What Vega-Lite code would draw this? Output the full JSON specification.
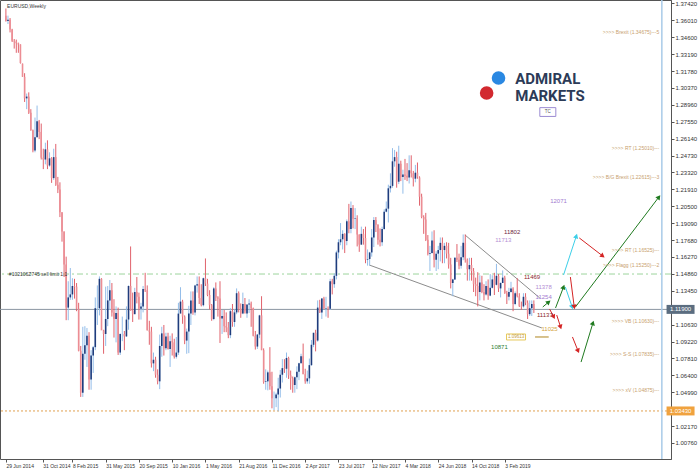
{
"$schema":"https://vega.github.io/schema/vega-lite/v6.json",
"width":671,"height":459,
"autosize":{"type":"none"},
"padding":{"left":0,"top":0,"right":29,"bottom":12},
"background":"white",
"config":{"view":{"stroke":"#555","strokeWidth":1},"font":"Liberation Sans",
 "axis":{"labelOverlap":false,"labelFlush":false,"labelBound":false,"grid":false},
 "axisY":{"labelFontSize":6,"labelColor":"#333","labelFont":"Liberation Sans","tickSize":3,"tickColor":"#555","domainColor":"#555","labelPadding":1,"labelBaseline":"middle","labelOverlap":false,"tickCount":40},
 "axisX":{"labelFontSize":5,"labelColor":"#333","labelFont":"Liberation Sans","tickSize":3,"tickColor":"#555","domain":false,"labelPadding":1,"labelAlign":"left","labelOverlap":false,"tickCount":40}},
"resolve":{"scale":{"color":"independent"}},
"datasets":{
"candles":[
{"d":"2014-06-29","o":1.3640,"h":1.3700,"l":1.3590,"c":1.3595},
{"d":"2014-07-06","o":1.3595,"h":1.3640,"l":1.3570,"c":1.3605},
{"d":"2014-07-13","o":1.3605,"h":1.3620,"l":1.3500,"c":1.3525},
{"d":"2014-07-20","o":1.3525,"h":1.3530,"l":1.3420,"c":1.3430},
{"d":"2014-07-27","o":1.3430,"h":1.3445,"l":1.3365,"c":1.3425},
{"d":"2014-08-03","o":1.3425,"h":1.3440,"l":1.3330,"c":1.3410},
{"d":"2014-08-10","o":1.3410,"h":1.3415,"l":1.3330,"c":1.3400},
{"d":"2014-08-17","o":1.3400,"h":1.3400,"l":1.3240,"c":1.3245},
{"d":"2014-08-24","o":1.3240,"h":1.3240,"l":1.3130,"c":1.3130},
{"d":"2014-08-31","o":1.3130,"h":1.3160,"l":1.2920,"c":1.2950},
{"d":"2014-09-07","o":1.2950,"h":1.2990,"l":1.2860,"c":1.2965},
{"d":"2014-09-14","o":1.2965,"h":1.3000,"l":1.2820,"c":1.2830},
{"d":"2014-09-21","o":1.2830,"h":1.2860,"l":1.2680,"c":1.2685},
{"d":"2014-09-28","o":1.2685,"h":1.2690,"l":1.2500,"c":1.2515},
{"d":"2014-10-05","o":1.2515,"h":1.2790,"l":1.2500,"c":1.2625},
{"d":"2014-10-12","o":1.2625,"h":1.2890,"l":1.2625,"c":1.2760},
{"d":"2014-10-19","o":1.2760,"h":1.2770,"l":1.2610,"c":1.2670},
{"d":"2014-10-26","o":1.2670,"h":1.2740,"l":1.2440,"c":1.2455},
{"d":"2014-11-02","o":1.2455,"h":1.2530,"l":1.2360,"c":1.2440},
{"d":"2014-11-09","o":1.2440,"h":1.2580,"l":1.2400,"c":1.2525},
{"d":"2014-11-16","o":1.2525,"h":1.2600,"l":1.2360,"c":1.2390},
{"d":"2014-11-23","o":1.2390,"h":1.2500,"l":1.2380,"c":1.2450},
{"d":"2014-11-30","o":1.2450,"h":1.2460,"l":1.2245,"c":1.2285},
{"d":"2014-12-07","o":1.2285,"h":1.2530,"l":1.2270,"c":1.2460},
{"d":"2014-12-14","o":1.2460,"h":1.2570,"l":1.2220,"c":1.2230},
{"d":"2014-12-21","o":1.2230,"h":1.2295,"l":1.2160,"c":1.2190},
{"d":"2014-12-28","o":1.2190,"h":1.2250,"l":1.1960,"c":1.2000},
{"d":"2015-01-04","o":1.2000,"h":1.2000,"l":1.1755,"c":1.1840},
{"d":"2015-01-11","o":1.1840,"h":1.1840,"l":1.1460,"c":1.1565},
{"d":"2015-01-18","o":1.1565,"h":1.1630,"l":1.1100,"c":1.1205},
{"d":"2015-01-25","o":1.1205,"h":1.1425,"l":1.1100,"c":1.1290},
{"d":"2015-02-01","o":1.1290,"h":1.1535,"l":1.1270,"c":1.1315},
{"d":"2015-02-08","o":1.1315,"h":1.1450,"l":1.1270,"c":1.1385},
{"d":"2015-02-15","o":1.1385,"h":1.1445,"l":1.1280,"c":1.1380},
{"d":"2015-02-22","o":1.1380,"h":1.1410,"l":1.1175,"c":1.1195},
{"d":"2015-03-01","o":1.1195,"h":1.1245,"l":1.0840,"c":1.0845},
{"d":"2015-03-08","o":1.0845,"h":1.0885,"l":1.0460,"c":1.0495},
{"d":"2015-03-15","o":1.0495,"h":1.1045,"l":1.0460,"c":1.0820},
{"d":"2015-03-22","o":1.0820,"h":1.1050,"l":1.0770,"c":1.0890},
{"d":"2015-03-29","o":1.0890,"h":1.1035,"l":1.0710,"c":1.0970},
{"d":"2015-04-05","o":1.0970,"h":1.1000,"l":1.0520,"c":1.0605},
{"d":"2015-04-12","o":1.0605,"h":1.0850,"l":1.0520,"c":1.0805},
{"d":"2015-04-19","o":1.0805,"h":1.0885,"l":1.0660,"c":1.0875},
{"d":"2015-04-26","o":1.0875,"h":1.1290,"l":1.0850,"c":1.1200},
{"d":"2015-05-03","o":1.1200,"h":1.1390,"l":1.1060,"c":1.1200},
{"d":"2015-05-10","o":1.1200,"h":1.1465,"l":1.1140,"c":1.1445},
{"d":"2015-05-17","o":1.1445,"h":1.1450,"l":1.1045,"c":1.1015},
{"d":"2015-05-24","o":1.1015,"h":1.1020,"l":1.0820,"c":1.0985},
{"d":"2015-05-31","o":1.0985,"h":1.1380,"l":1.0885,"c":1.1110},
{"d":"2015-06-07","o":1.1110,"h":1.1385,"l":1.1050,"c":1.1265},
{"d":"2015-06-14","o":1.1265,"h":1.1435,"l":1.1185,"c":1.1350},
{"d":"2015-06-21","o":1.1350,"h":1.1410,"l":1.1130,"c":1.1165},
{"d":"2015-06-28","o":1.1165,"h":1.1275,"l":1.0955,"c":1.1110},
{"d":"2015-07-05","o":1.1110,"h":1.1215,"l":1.0915,"c":1.1160},
{"d":"2015-07-12","o":1.1160,"h":1.1205,"l":1.0810,"c":1.0830},
{"d":"2015-07-19","o":1.0830,"h":1.0990,"l":1.0810,"c":1.0985},
{"d":"2015-07-26","o":1.0985,"h":1.1130,"l":1.0925,"c":1.0985},
{"d":"2015-08-02","o":1.0985,"h":1.1010,"l":1.0850,"c":1.0965},
{"d":"2015-08-09","o":1.0965,"h":1.1215,"l":1.0960,"c":1.1105},
{"d":"2015-08-16","o":1.1105,"h":1.1390,"l":1.1020,"c":1.1385},
{"d":"2015-08-23","o":1.1385,"h":1.1715,"l":1.1180,"c":1.1180},
{"d":"2015-08-30","o":1.1180,"h":1.1330,"l":1.1085,"c":1.1150},
{"d":"2015-09-06","o":1.1150,"h":1.1370,"l":1.1150,"c":1.1335},
{"d":"2015-09-13","o":1.1335,"h":1.1460,"l":1.1240,"c":1.1295},
{"d":"2015-09-20","o":1.1295,"h":1.1330,"l":1.1105,"c":1.1195},
{"d":"2015-09-27","o":1.1195,"h":1.1245,"l":1.1105,"c":1.1215},
{"d":"2015-10-04","o":1.1215,"h":1.1385,"l":1.1165,"c":1.1360},
{"d":"2015-10-11","o":1.1360,"h":1.1495,"l":1.1335,"c":1.1350},
{"d":"2015-10-18","o":1.1350,"h":1.1390,"l":1.1015,"c":1.1015},
{"d":"2015-10-25","o":1.1015,"h":1.1095,"l":1.0895,"c":1.1005},
{"d":"2015-11-01","o":1.1005,"h":1.1045,"l":1.0705,"c":1.0740},
{"d":"2015-11-08","o":1.0740,"h":1.0830,"l":1.0675,"c":1.0770},
{"d":"2015-11-15","o":1.0770,"h":1.0795,"l":1.0620,"c":1.0645},
{"d":"2015-11-22","o":1.0645,"h":1.0690,"l":1.0565,"c":1.0590},
{"d":"2015-11-29","o":1.0590,"h":1.0980,"l":1.0525,"c":1.0885},
{"d":"2015-12-06","o":1.0885,"h":1.1045,"l":1.0795,"c":1.0990},
{"d":"2015-12-13","o":1.0990,"h":1.1060,"l":1.0805,"c":1.0865},
{"d":"2015-12-20","o":1.0865,"h":1.0995,"l":1.0850,"c":1.0965},
{"d":"2015-12-27","o":1.0965,"h":1.0995,"l":1.0855,"c":1.0860},
{"d":"2016-01-03","o":1.0860,"h":1.0970,"l":1.0710,"c":1.0925},
{"d":"2016-01-10","o":1.0925,"h":1.0990,"l":1.0805,"c":1.0915},
{"d":"2016-01-17","o":1.0915,"h":1.0945,"l":1.0780,"c":1.0795},
{"d":"2016-01-24","o":1.0795,"h":1.0960,"l":1.0780,"c":1.0830},
{"d":"2016-01-31","o":1.0830,"h":1.1245,"l":1.0810,"c":1.1155},
{"d":"2016-02-07","o":1.1155,"h":1.1375,"l":1.1160,"c":1.1255},
{"d":"2016-02-14","o":1.1255,"h":1.1270,"l":1.1070,"c":1.1130},
{"d":"2016-02-21","o":1.1130,"h":1.1140,"l":1.0900,"c":1.0930},
{"d":"2016-02-28","o":1.0930,"h":1.1030,"l":1.0820,"c":1.1005},
{"d":"2016-03-06","o":1.1005,"h":1.1220,"l":1.0825,"c":1.1155},
{"d":"2016-03-13","o":1.1155,"h":1.1340,"l":1.1060,"c":1.1265},
{"d":"2016-03-20","o":1.1265,"h":1.1340,"l":1.1145,"c":1.1165},
{"d":"2016-03-27","o":1.1165,"h":1.1395,"l":1.1140,"c":1.1390},
{"d":"2016-04-03","o":1.1390,"h":1.1465,"l":1.1330,"c":1.1400},
{"d":"2016-04-10","o":1.1400,"h":1.1465,"l":1.1235,"c":1.1285},
{"d":"2016-04-17","o":1.1285,"h":1.1400,"l":1.1215,"c":1.1225},
{"d":"2016-04-24","o":1.1225,"h":1.1455,"l":1.1215,"c":1.1450},
{"d":"2016-05-01","o":1.1450,"h":1.1615,"l":1.1385,"c":1.1405},
{"d":"2016-05-08","o":1.1405,"h":1.1445,"l":1.1300,"c":1.1310},
{"d":"2016-05-15","o":1.1310,"h":1.1350,"l":1.1190,"c":1.1225},
{"d":"2016-05-22","o":1.1225,"h":1.1235,"l":1.1095,"c":1.1110},
{"d":"2016-05-29","o":1.1110,"h":1.1375,"l":1.1100,"c":1.1365},
{"d":"2016-06-05","o":1.1365,"h":1.1415,"l":1.1260,"c":1.1290},
{"d":"2016-06-12","o":1.1290,"h":1.1300,"l":1.1130,"c":1.1280},
{"d":"2016-06-19","o":1.1280,"h":1.1425,"l":1.0910,"c":1.1115},
{"d":"2016-06-26","o":1.1115,"h":1.1185,"l":1.0985,"c":1.1135},
{"d":"2016-07-03","o":1.1135,"h":1.1185,"l":1.1000,"c":1.1050},
{"d":"2016-07-10","o":1.1050,"h":1.1165,"l":1.1000,"c":1.1040},
{"d":"2016-07-17","o":1.1040,"h":1.1085,"l":1.0950,"c":1.0975},
{"d":"2016-07-24","o":1.0975,"h":1.1200,"l":1.0950,"c":1.1175},
{"d":"2016-07-31","o":1.1175,"h":1.1235,"l":1.1045,"c":1.1085},
{"d":"2016-08-07","o":1.1085,"h":1.1190,"l":1.1045,"c":1.1165},
{"d":"2016-08-14","o":1.1165,"h":1.1365,"l":1.1150,"c":1.1325},
{"d":"2016-08-21","o":1.1325,"h":1.1340,"l":1.1165,"c":1.1195},
{"d":"2016-08-28","o":1.1195,"h":1.1240,"l":1.1120,"c":1.1155},
{"d":"2016-09-04","o":1.1155,"h":1.1330,"l":1.1150,"c":1.1235},
{"d":"2016-09-11","o":1.1235,"h":1.1285,"l":1.1175,"c":1.1155},
{"d":"2016-09-18","o":1.1155,"h":1.1230,"l":1.1120,"c":1.1230},
{"d":"2016-09-25","o":1.1230,"h":1.1275,"l":1.1160,"c":1.1240},
{"d":"2016-10-02","o":1.1240,"h":1.1255,"l":1.1045,"c":1.1200},
{"d":"2016-10-09","o":1.1200,"h":1.1205,"l":1.0965,"c":1.0970},
{"d":"2016-10-16","o":1.0970,"h":1.1010,"l":1.0855,"c":1.0880},
{"d":"2016-10-23","o":1.0880,"h":1.0985,"l":1.0860,"c":1.0980},
{"d":"2016-10-30","o":1.0980,"h":1.1145,"l":1.0950,"c":1.1140},
{"d":"2016-11-06","o":1.1140,"h":1.1300,"l":1.0850,"c":1.0850},
{"d":"2016-11-13","o":1.0850,"h":1.0865,"l":1.0570,"c":1.0585},
{"d":"2016-11-20","o":1.0585,"h":1.0690,"l":1.0520,"c":1.0590},
{"d":"2016-11-27","o":1.0590,"h":1.0680,"l":1.0515,"c":1.0665},
{"d":"2016-12-04","o":1.0665,"h":1.0875,"l":1.0520,"c":1.0550},
{"d":"2016-12-11","o":1.0550,"h":1.0670,"l":1.0365,"c":1.0450},
{"d":"2016-12-18","o":1.0450,"h":1.0505,"l":1.0350,"c":1.0450},
{"d":"2016-12-25","o":1.0450,"h":1.0495,"l":1.0375,"c":1.0480},
{"d":"2017-01-01","o":1.0480,"h":1.0620,"l":1.0340,"c":1.0530},
{"d":"2017-01-08","o":1.0530,"h":1.0685,"l":1.0455,"c":1.0645},
{"d":"2017-01-15","o":1.0645,"h":1.0775,"l":1.0580,"c":1.0700},
{"d":"2017-01-22","o":1.0700,"h":1.0775,"l":1.0660,"c":1.0695},
{"d":"2017-01-29","o":1.0695,"h":1.0830,"l":1.0620,"c":1.0785},
{"d":"2017-02-05","o":1.0785,"h":1.0795,"l":1.0610,"c":1.0640},
{"d":"2017-02-12","o":1.0640,"h":1.0680,"l":1.0520,"c":1.0615},
{"d":"2017-02-19","o":1.0615,"h":1.0630,"l":1.0495,"c":1.0560},
{"d":"2017-02-26","o":1.0560,"h":1.0630,"l":1.0495,"c":1.0625},
{"d":"2017-03-05","o":1.0625,"h":1.0715,"l":1.0525,"c":1.0670},
{"d":"2017-03-12","o":1.0670,"h":1.0745,"l":1.0600,"c":1.0740},
{"d":"2017-03-19","o":1.0740,"h":1.0820,"l":1.0740,"c":1.0800},
{"d":"2017-03-26","o":1.0800,"h":1.0905,"l":1.0650,"c":1.0650},
{"d":"2017-04-02","o":1.0650,"h":1.0695,"l":1.0570,"c":1.0590},
{"d":"2017-04-09","o":1.0590,"h":1.0680,"l":1.0570,"c":1.0615},
{"d":"2017-04-16","o":1.0615,"h":1.0780,"l":1.0570,"c":1.0725},
{"d":"2017-04-23","o":1.0725,"h":1.0935,"l":1.0720,"c":1.0895},
{"d":"2017-04-30","o":1.0895,"h":1.0995,"l":1.0875,"c":1.0995},
{"d":"2017-05-07","o":1.0995,"h":1.1020,"l":1.0840,"c":1.0930},
{"d":"2017-05-14","o":1.0930,"h":1.1265,"l":1.0920,"c":1.1205},
{"d":"2017-05-21","o":1.1205,"h":1.1270,"l":1.1160,"c":1.1165},
{"d":"2017-05-28","o":1.1165,"h":1.1285,"l":1.1110,"c":1.1280},
{"d":"2017-06-04","o":1.1280,"h":1.1295,"l":1.1195,"c":1.1195},
{"d":"2017-06-11","o":1.1195,"h":1.1295,"l":1.1130,"c":1.1200},
{"d":"2017-06-18","o":1.1200,"h":1.1215,"l":1.1120,"c":1.1195},
{"d":"2017-06-25","o":1.1195,"h":1.1445,"l":1.1185,"c":1.1425},
{"d":"2017-07-02","o":1.1425,"h":1.1445,"l":1.1315,"c":1.1400},
{"d":"2017-07-09","o":1.1400,"h":1.1490,"l":1.1370,"c":1.1470},
{"d":"2017-07-16","o":1.1470,"h":1.1680,"l":1.1440,"c":1.1665},
{"d":"2017-07-23","o":1.1665,"h":1.1775,"l":1.1615,"c":1.1750},
{"d":"2017-07-30","o":1.1750,"h":1.1910,"l":1.1725,"c":1.1775},
{"d":"2017-08-06","o":1.1775,"h":1.1850,"l":1.1690,"c":1.1820},
{"d":"2017-08-13","o":1.1820,"h":1.1825,"l":1.1660,"c":1.1760},
{"d":"2017-08-20","o":1.1760,"h":1.1940,"l":1.1725,"c":1.1925},
{"d":"2017-08-27","o":1.1925,"h":1.2070,"l":1.1825,"c":1.1860},
{"d":"2017-09-03","o":1.1860,"h":1.2090,"l":1.1825,"c":1.2035},
{"d":"2017-09-10","o":1.2035,"h":1.2060,"l":1.1865,"c":1.1945},
{"d":"2017-09-17","o":1.1945,"h":1.2035,"l":1.1860,"c":1.1950},
{"d":"2017-09-24","o":1.1950,"h":1.1975,"l":1.1715,"c":1.1815},
{"d":"2017-10-01","o":1.1815,"h":1.1815,"l":1.1670,"c":1.1730},
{"d":"2017-10-08","o":1.1730,"h":1.1880,"l":1.1730,"c":1.1820},
{"d":"2017-10-15","o":1.1820,"h":1.1860,"l":1.1730,"c":1.1785},
{"d":"2017-10-22","o":1.1785,"h":1.1880,"l":1.1575,"c":1.1605},
{"d":"2017-10-29","o":1.1605,"h":1.1690,"l":1.1555,"c":1.1610},
{"d":"2017-11-05","o":1.1610,"h":1.1670,"l":1.1555,"c":1.1665},
{"d":"2017-11-12","o":1.1665,"h":1.1860,"l":1.1630,"c":1.1790},
{"d":"2017-11-19","o":1.1790,"h":1.1960,"l":1.1710,"c":1.1935},
{"d":"2017-11-26","o":1.1935,"h":1.1960,"l":1.1835,"c":1.1895},
{"d":"2017-12-03","o":1.1895,"h":1.1900,"l":1.1730,"c":1.1770},
{"d":"2017-12-10","o":1.1770,"h":1.1865,"l":1.1715,"c":1.1750},
{"d":"2017-12-17","o":1.1750,"h":1.1880,"l":1.1720,"c":1.1860},
{"d":"2017-12-24","o":1.1860,"h":1.2025,"l":1.1855,"c":1.2005},
{"d":"2017-12-31","o":1.2005,"h":1.2090,"l":1.2000,"c":1.2030},
{"d":"2018-01-07","o":1.2030,"h":1.2230,"l":1.1915,"c":1.2200},
{"d":"2018-01-14","o":1.2200,"h":1.2325,"l":1.2165,"c":1.2220},
{"d":"2018-01-21","o":1.2220,"h":1.2535,"l":1.2205,"c":1.2425},
{"d":"2018-01-28","o":1.2425,"h":1.2520,"l":1.2380,"c":1.2460},
{"d":"2018-02-04","o":1.2460,"h":1.2505,"l":1.2205,"c":1.2255},
{"d":"2018-02-11","o":1.2255,"h":1.2555,"l":1.2235,"c":1.2405},
{"d":"2018-02-18","o":1.2405,"h":1.2430,"l":1.2260,"c":1.2295},
{"d":"2018-02-25","o":1.2295,"h":1.2355,"l":1.2155,"c":1.2315},
{"d":"2018-03-04","o":1.2315,"h":1.2445,"l":1.2270,"c":1.2305},
{"d":"2018-03-11","o":1.2305,"h":1.2410,"l":1.2260,"c":1.2290},
{"d":"2018-03-18","o":1.2290,"h":1.2475,"l":1.2240,"c":1.2350},
{"d":"2018-03-25","o":1.2350,"h":1.2475,"l":1.2290,"c":1.2325},
{"d":"2018-04-01","o":1.2325,"h":1.2345,"l":1.2215,"c":1.2280},
{"d":"2018-04-08","o":1.2280,"h":1.2395,"l":1.2250,"c":1.2330},
{"d":"2018-04-15","o":1.2330,"h":1.2415,"l":1.2280,"c":1.2290},
{"d":"2018-04-22","o":1.2290,"h":1.2300,"l":1.2055,"c":1.2130},
{"d":"2018-04-29","o":1.2130,"h":1.2155,"l":1.1950,"c":1.1960},
{"d":"2018-05-06","o":1.1960,"h":1.1975,"l":1.1820,"c":1.1940},
{"d":"2018-05-13","o":1.1940,"h":1.1995,"l":1.1760,"c":1.1770},
{"d":"2018-05-20","o":1.1770,"h":1.1810,"l":1.1640,"c":1.1655},
{"d":"2018-05-27","o":1.1655,"h":1.1720,"l":1.1510,"c":1.1660},
{"d":"2018-06-03","o":1.1660,"h":1.1840,"l":1.1655,"c":1.1765},
{"d":"2018-06-10","o":1.1765,"h":1.1850,"l":1.1540,"c":1.1605},
{"d":"2018-06-17","o":1.1605,"h":1.1675,"l":1.1510,"c":1.1655},
{"d":"2018-06-24","o":1.1655,"h":1.1720,"l":1.1525,"c":1.1685},
{"d":"2018-07-01","o":1.1685,"h":1.1790,"l":1.1590,"c":1.1745},
{"d":"2018-07-08","o":1.1745,"h":1.1790,"l":1.1575,"c":1.1685},
{"d":"2018-07-15","o":1.1685,"h":1.1745,"l":1.1575,"c":1.1720},
{"d":"2018-07-22","o":1.1720,"h":1.1750,"l":1.1615,"c":1.1655},
{"d":"2018-07-29","o":1.1655,"h":1.1745,"l":1.1530,"c":1.1565},
{"d":"2018-08-05","o":1.1565,"h":1.1620,"l":1.1365,"c":1.1410},
{"d":"2018-08-12","o":1.1410,"h":1.1445,"l":1.1300,"c":1.1440},
{"d":"2018-08-19","o":1.1440,"h":1.1625,"l":1.1435,"c":1.1620},
{"d":"2018-08-26","o":1.1620,"h":1.1735,"l":1.1585,"c":1.1605},
{"d":"2018-09-02","o":1.1605,"h":1.1655,"l":1.1525,"c":1.1555},
{"d":"2018-09-09","o":1.1555,"h":1.1720,"l":1.1530,"c":1.1625},
{"d":"2018-09-16","o":1.1625,"h":1.1815,"l":1.1600,"c":1.1745},
{"d":"2018-09-23","o":1.1745,"h":1.1815,"l":1.1580,"c":1.1605},
{"d":"2018-09-30","o":1.1605,"h":1.1615,"l":1.1430,"c":1.1525},
{"d":"2018-10-07","o":1.1525,"h":1.1620,"l":1.1430,"c":1.1560},
{"d":"2018-10-14","o":1.1560,"h":1.1620,"l":1.1430,"c":1.1510},
{"d":"2018-10-21","o":1.1510,"h":1.1535,"l":1.1335,"c":1.1400},
{"d":"2018-10-28","o":1.1400,"h":1.1455,"l":1.1300,"c":1.1385},
{"d":"2018-11-04","o":1.1385,"h":1.1500,"l":1.1215,"c":1.1335},
{"d":"2018-11-11","o":1.1335,"h":1.1475,"l":1.1265,"c":1.1415},
{"d":"2018-11-18","o":1.1415,"h":1.1470,"l":1.1325,"c":1.1335},
{"d":"2018-11-25","o":1.1335,"h":1.1400,"l":1.1265,"c":1.1315},
{"d":"2018-12-02","o":1.1315,"h":1.1425,"l":1.1305,"c":1.1385},
{"d":"2018-12-09","o":1.1385,"h":1.1440,"l":1.1270,"c":1.1305},
{"d":"2018-12-16","o":1.1305,"h":1.1485,"l":1.1300,"c":1.1370},
{"d":"2018-12-23","o":1.1370,"h":1.1475,"l":1.1365,"c":1.1440},
{"d":"2018-12-30","o":1.1440,"h":1.1495,"l":1.1310,"c":1.1395},
{"d":"2019-01-06","o":1.1395,"h":1.1570,"l":1.1390,"c":1.1470},
{"d":"2019-01-13","o":1.1470,"h":1.1485,"l":1.1335,"c":1.1365},
{"d":"2019-01-20","o":1.1365,"h":1.1415,"l":1.1290,"c":1.1410},
{"d":"2019-01-27","o":1.1410,"h":1.1515,"l":1.1410,"c":1.1455},
{"d":"2019-02-03","o":1.1455,"h":1.1470,"l":1.1320,"c":1.1325},
{"d":"2019-02-10","o":1.1325,"h":1.1345,"l":1.1235,"c":1.1295},
{"d":"2019-02-17","o":1.1295,"h":1.1370,"l":1.1265,"c":1.1335},
{"d":"2019-02-24","o":1.1335,"h":1.1420,"l":1.1330,"c":1.1365},
{"d":"2019-03-03","o":1.1365,"h":1.1375,"l":1.1175,"c":1.1235},
{"d":"2019-03-10","o":1.1235,"h":1.1340,"l":1.1225,"c":1.1325},
{"d":"2019-03-17","o":1.1325,"h":1.1450,"l":1.1290,"c":1.1300},
{"d":"2019-03-24","o":1.1300,"h":1.1325,"l":1.1210,"c":1.1220},
{"d":"2019-03-31","o":1.1220,"h":1.1255,"l":1.1185,"c":1.1215},
{"d":"2019-04-07","o":1.1215,"h":1.1325,"l":1.1205,"c":1.1295},
{"d":"2019-04-14","o":1.1295,"h":1.1325,"l":1.1225,"c":1.1245},
{"d":"2019-04-21","o":1.1245,"h":1.1265,"l":1.1110,"c":1.1150},
{"d":"2019-04-28","o":1.1150,"h":1.1265,"l":1.1135,"c":1.1200},
{"d":"2019-05-05","o":1.1200,"h":1.1265,"l":1.1135,"c":1.1235},
{"d":"2019-05-12","o":1.1235,"h":1.1265,"l":1.1160,"c":1.1190}
],
"arrows":[
{"id":"a","grp":"g","d":"2019-06-11","p":1.1210},{"id":"a","grp":"g","d":"2019-07-01","p":1.1252},
{"id":"b","grp":"r","d":"2019-07-04","p":1.1193},{"id":"b","grp":"r","d":"2019-07-18","p":1.1127},
{"id":"c","grp":"g","d":"2019-07-24","p":1.1202},{"id":"c","grp":"g","d":"2019-08-20","p":1.1377},
{"id":"d","grp":"c","d":"2019-08-20","p":1.1477},{"id":"d","grp":"c","d":"2019-10-02","p":1.1802},
{"id":"e","grp":"c","d":"2019-08-26","p":1.1377},{"id":"e","grp":"c","d":"2019-09-18","p":1.1210},
{"id":"f","grp":"r","d":"2019-09-12","p":1.1460},{"id":"f","grp":"r","d":"2019-09-25","p":1.1210},
{"id":"g","grp":"r","d":"2019-10-12","p":1.1786},{"id":"g","grp":"r","d":"2019-12-30","p":1.1635},
{"id":"h","grp":"r","d":"2019-07-28","p":1.1143},{"id":"h","grp":"r","d":"2019-08-10","p":1.1043},
{"id":"i","grp":"g","d":"2019-09-29","p":1.1210},{"id":"i","grp":"g","d":"2020-07-06","p":1.2127},
{"id":"j","grp":"r","d":"2019-09-19","p":1.0960},{"id":"j","grp":"r","d":"2019-10-08","p":1.0843},
{"id":"k","grp":"g","d":"2019-10-18","p":1.0751},{"id":"k","grp":"g","d":"2019-11-27","p":1.1077}
],
"heads":[
{"grp":"g","d":"2019-07-01","p":1.1252,"dir":50},
{"grp":"r","d":"2019-07-18","p":1.1127,"dir":153},
{"grp":"g","d":"2019-08-20","p":1.1377,"dir":21},
{"grp":"c","d":"2019-10-02","p":1.1802,"dir":18},
{"grp":"c","d":"2019-09-18","p":1.1210,"dir":161},
{"grp":"r","d":"2019-09-25","p":1.1210,"dir":172},
{"grp":"r","d":"2019-12-30","p":1.1635,"dir":127},
{"grp":"r","d":"2019-08-10","p":1.1043,"dir":162},
{"grp":"g","d":"2020-07-06","p":1.2127,"dir":37},
{"grp":"r","d":"2019-10-08","p":1.0843,"dir":157},
{"grp":"g","d":"2019-11-27","p":1.1077,"dir":17}
],
"wedge":[
{"id":"u","d":"2018-09-22","p":1.1811},{"id":"u","d":"2019-06-01","p":1.1285},
{"id":"l","d":"2017-11-04","p":1.1560},{"id":"l","d":"2019-06-08","p":1.1035}
],
"nums":[
{"t":"11802","g":"dk","d":"2019-02-28","p":1.1836},
{"t":"11713","g":"lp","d":"2019-01-29","p":1.1769},
{"t":"12071","g":"pp","d":"2019-08-03","p":1.2094},
{"t":"11469","g":"dr","d":"2019-05-06","p":1.1460},
{"t":"11378","g":"lp","d":"2019-06-14","p":1.1377},
{"t":"11254","g":"pp","d":"2019-06-14","p":1.1293},
{"t":"11137","g":"dr","d":"2019-06-18","p":1.1143},
{"t":"11025","g":"gd","d":"2019-07-04","p":1.1027},
{"t":"10871","g":"gr","d":"2019-01-16","p":1.0876}
],
"levels":[
{"t":">>>> Brexit (1.34675)---5","p":1.34675},
{"t":">>>> RT (1.25010)---","p":1.25010},
{"t":">>>> B/G Brexit (1.22615)---3","p":1.22615},
{"t":">>>> RT (1.16525)---","p":1.16525},
{"t":">>>> Flagg (1.15250)---2","p":1.15250},
{"t":">>>> VB (1.10630)---","p":1.10630},
{"t":">>>> S-S (1.07835)---","p":1.07835},
{"t":">>>> xV (1.04875)---","p":1.04875}
]
},
"layer":[
{"data":{"values":[{"p":1.1190}]},"mark":{"type":"rule","color":"#8a95a2","strokeWidth":1},
 "encoding":{"y":{"field":"p","type":"quantitative","scale":{"domain":[0.99423,1.37704],"zero":false,"nice":false},"axis":{"title":null}}}},
{"data":{"values":[{"p":1.1485}]},"mark":{"type":"rule","color":"#9cd49c","strokeWidth":1,"strokeDash":[6,3,2,3]},
 "encoding":{"y":{"field":"p","type":"quantitative","scale":{"domain":[0.99423,1.37704],"zero":false,"nice":false},"axis":{"title":null}}}},
{"data":{"values":[{"p":1.0343}]},"mark":{"type":"rule","color":"#e0a050","strokeWidth":1,"strokeDash":[2,2]},
 "encoding":{"y":{"field":"p","type":"quantitative","scale":{"domain":[0.99423,1.37704],"zero":false,"nice":false},"axis":{"title":null}}}},
{"data":{"values":[{"d":"2020-07-16"}]},"mark":{"type":"rule","color":"#a9cbe8","strokeWidth":1.5},
 "encoding":{"x":{"field":"d","type":"temporal","scale":{"domain":[{"year":2014,"month":6,"date":26},{"year":2020,"month":7,"date":30}]},"axis":{"title":null}}}},
{"data":{"name":"wedge"},"mark":{"type":"line","color":"#8c8c8c","strokeWidth":1},
 "encoding":{"x":{"field":"d","type":"temporal","scale":{"domain":[{"year":2014,"month":6,"date":26},{"year":2020,"month":7,"date":30}]},"axis":{"title":null}},
  "y":{"field":"p","type":"quantitative","scale":{"domain":[0.99423,1.37704],"zero":false,"nice":false},"axis":{"title":null}},
  "detail":{"field":"id"}}},
{"data":{"name":"candles"},"mark":{"type":"rule","strokeWidth":1},
 "encoding":{"x":{"field":"d","type":"temporal","scale":{"domain":[{"year":2014,"month":6,"date":26},{"year":2020,"month":7,"date":30}]},
   "axis":{"title":null,"values":[{"year":2014,"month":6,"date":29},{"year":2014,"month":10,"date":31},{"year":2015,"month":2,"date":8},{"year":2015,"month":5,"date":31},{"year":2015,"month":9,"date":20},{"year":2016,"month":1,"date":10},{"year":2016,"month":5,"date":1},{"year":2016,"month":8,"date":21},{"year":2016,"month":12,"date":11},{"year":2017,"month":4,"date":2},{"year":2017,"month":7,"date":23},{"year":2017,"month":11,"date":12},{"year":2018,"month":3,"date":4},{"year":2018,"month":6,"date":24},{"year":2018,"month":10,"date":14},{"year":2019,"month":2,"date":3}],
   "format":"%-d %b %Y","labelAlign":"left","labelOverlap":false,"tickCount":40}},
  "y":{"field":"l","type":"quantitative","scale":{"domain":[0.99423,1.37704],"zero":false,"nice":false},
   "axis":{"title":null,"orient":"right","values":[1.3742,1.3601,1.346,1.3319,1.3178,1.3037,1.2896,1.2755,1.2614,1.2473,1.2332,1.2191,1.205,1.1909,1.1768,1.1627,1.1486,1.1345,1.1063,1.0922,1.0781,1.064,1.0499,1.0217,1.0076],
   "format":".5f","labelOverlap":false,"tickCount":40}},
  "y2":{"field":"h"},
  "color":{"condition":{"test":"datum.c >= datum.o","value":"#93bde9"},"value":"#e0626c"}}},
{"data":{"name":"candles"},"mark":{"type":"bar","size":1.6},
 "encoding":{"x":{"field":"d","type":"temporal","scale":{"domain":[{"year":2014,"month":6,"date":26},{"year":2020,"month":7,"date":30}]},"axis":{"title":null}},
  "y":{"field":"o","type":"quantitative","scale":{"domain":[0.99423,1.37704],"zero":false,"nice":false},"axis":{"title":null}},
  "y2":{"field":"c"},
  "color":{"condition":{"test":"datum.c >= datum.o","value":"#1f3c7c"},"value":"#ec8d94"}}},
{"data":{"name":"arrows"},"mark":{"type":"line","strokeWidth":1},
 "encoding":{"x":{"field":"d","type":"temporal","scale":{"domain":[{"year":2014,"month":6,"date":26},{"year":2020,"month":7,"date":30}]},"axis":{"title":null}},
  "y":{"field":"p","type":"quantitative","scale":{"domain":[0.99423,1.37704],"zero":false,"nice":false},"axis":{"title":null}},
  "detail":{"field":"id"},
  "color":{"field":"grp","type":"nominal","scale":{"domain":["g","r","c"],"range":["#1f7a1f","#d42424","#3ccfe8"]},"legend":null}}},
{"data":{"name":"heads"},"mark":{"type":"point","shape":"triangle-up","filled":true,"opacity":1,"size":28},
 "encoding":{"x":{"field":"d","type":"temporal","scale":{"domain":[{"year":2014,"month":6,"date":26},{"year":2020,"month":7,"date":30}]},"axis":{"title":null}},
  "y":{"field":"p","type":"quantitative","scale":{"domain":[0.99423,1.37704],"zero":false,"nice":false},"axis":{"title":null}},
  "angle":{"field":"dir","type":"quantitative","scale":null},
  "color":{"field":"grp","type":"nominal","scale":{"domain":["g","r","c"],"range":["#1f7a1f","#d42424","#3ccfe8"]},"legend":null}}},
{"data":{"values":[{"d":"2019-05-16","p":1.0960},{"d":"2019-07-01","p":1.0960}]},"mark":{"type":"line","color":"#c9ad68","strokeWidth":1.5},
 "encoding":{"x":{"field":"d","type":"temporal","scale":{"domain":[{"year":2014,"month":6,"date":26},{"year":2020,"month":7,"date":30}]},"axis":{"title":null}},
  "y":{"field":"p","type":"quantitative","scale":{"domain":[0.99423,1.37704],"zero":false,"nice":false},"axis":{"title":null}}}},
{"data":{"values":[{"d":"2019-03-13","p":1.0960}]},"mark":{"type":"point","shape":"M-1.9,-0.6H1.9V0.6H-1.9Z","size":100,"filled":false,"stroke":"#e6c85a","fill":"white","fillOpacity":1,"strokeWidth":1,"opacity":1},
 "encoding":{"x":{"field":"d","type":"temporal","scale":{"domain":[{"year":2014,"month":6,"date":26},{"year":2020,"month":7,"date":30}]},"axis":{"title":null}},
  "y":{"field":"p","type":"quantitative","scale":{"domain":[0.99423,1.37704],"zero":false,"nice":false},"axis":{"title":null}}}},
{"data":{"values":[{"d":"2019-03-13","p":1.0960,"t":"1.09613"}]},"mark":{"type":"text","fontSize":4.5,"color":"#c49a3a","align":"center","baseline":"middle"},
 "encoding":{"x":{"field":"d","type":"temporal","scale":{"domain":[{"year":2014,"month":6,"date":26},{"year":2020,"month":7,"date":30}]},"axis":{"title":null}},
  "y":{"field":"p","type":"quantitative","scale":{"domain":[0.99423,1.37704],"zero":false,"nice":false},"axis":{"title":null}},
  "text":{"field":"t"}}},
{"data":{"name":"nums"},"mark":{"type":"text","fontSize":6,"align":"center","baseline":"middle"},
 "encoding":{"x":{"field":"d","type":"temporal","scale":{"domain":[{"year":2014,"month":6,"date":26},{"year":2020,"month":7,"date":30}]},"axis":{"title":null}},
  "y":{"field":"p","type":"quantitative","scale":{"domain":[0.99423,1.37704],"zero":false,"nice":false},"axis":{"title":null}},
  "text":{"field":"t"},
  "color":{"field":"g","type":"nominal","scale":{"domain":["dk","lp","pp","dr","gd","gr"],"range":["#6e1f3f","#b48ed4","#a37bd0","#8c1f2a","#d4a43c","#2e7d32"]},"legend":null}}},
{"data":{"name":"levels"},"mark":{"type":"text","fontSize":5,"align":"right","baseline":"middle","dy":-4,"color":"#c8a06e"},
 "encoding":{"x":{"datum":{"year":2020,"month":7,"date":7},"type":"temporal","scale":{"domain":[{"year":2014,"month":6,"date":26},{"year":2020,"month":7,"date":30}]},"axis":{"title":null}},
  "y":{"field":"p","type":"quantitative","scale":{"domain":[0.99423,1.37704],"zero":false,"nice":false},"axis":{"title":null}},
  "text":{"field":"t"}}},
{"data":{"values":[{"d":"2014-07-09","p":1.1485,"t":"#102106Z745 sell limit 1.1"},{"d":"2014-07-03","p":1.3720,"t":"EURUSD,Weekly"}]},"mark":{"type":"text","fontSize":5,"align":"left","baseline":"middle","color":"#333"},
 "encoding":{"x":{"field":"d","type":"temporal","scale":{"domain":[{"year":2014,"month":6,"date":26},{"year":2020,"month":7,"date":30}]},"axis":{"title":null}},
  "y":{"field":"p","type":"quantitative","scale":{"domain":[0.99423,1.37704],"zero":false,"nice":false},"axis":{"title":null}},
  "text":{"field":"t"}}},
{"data":{"values":[{"d":"2019-01-13","p":1.3120,"k":"b"},{"d":"2018-12-04","p":1.2995,"k":"r"}]},"mark":{"type":"point","shape":"circle","filled":true,"opacity":1,"size":185},
 "encoding":{"x":{"field":"d","type":"temporal","scale":{"domain":[{"year":2014,"month":6,"date":26},{"year":2020,"month":7,"date":30}]},"axis":{"title":null}},
  "y":{"field":"p","type":"quantitative","scale":{"domain":[0.99423,1.37704],"zero":false,"nice":false},"axis":{"title":null}},
  "color":{"field":"k","type":"nominal","scale":{"domain":["b","r"],"range":["#2a88e2","#d2292f"]},"legend":null}}},
{"data":{"values":[{"d":"2019-03-10","p":1.3070,"t":"ADMIRAL"},{"d":"2019-03-10","p":1.2926,"t":"MARKETS"}]},"mark":{"type":"text","font":"Roboto","fontWeight":"bold","fontSize":15,"align":"left","baseline":"alphabetic","color":"#2c3b57"},
 "encoding":{"x":{"field":"d","type":"temporal","scale":{"domain":[{"year":2014,"month":6,"date":26},{"year":2020,"month":7,"date":30}]},"axis":{"title":null}},
  "y":{"field":"p","type":"quantitative","scale":{"domain":[0.99423,1.37704],"zero":false,"nice":false},"axis":{"title":null}},
  "text":{"field":"t"}}},
{"data":{"values":[{"d":"2019-06-28","p":1.2836}]},"mark":{"type":"point","shape":"M-2,-1.1H2V1.1H-2Z","size":64,"filled":false,"stroke":"#9b8bd2","fill":"white","fillOpacity":1,"strokeWidth":1,"opacity":1},
 "encoding":{"x":{"field":"d","type":"temporal","scale":{"domain":[{"year":2014,"month":6,"date":26},{"year":2020,"month":7,"date":30}]},"axis":{"title":null}},
  "y":{"field":"p","type":"quantitative","scale":{"domain":[0.99423,1.37704],"zero":false,"nice":false},"axis":{"title":null}}}},
{"data":{"values":[{"d":"2019-06-28","p":1.2836,"t":"TC"}]},"mark":{"type":"text","fontSize":4.5,"align":"center","baseline":"middle","color":"#555"},
 "encoding":{"x":{"field":"d","type":"temporal","scale":{"domain":[{"year":2014,"month":6,"date":26},{"year":2020,"month":7,"date":30}]},"axis":{"title":null}},
  "y":{"field":"p","type":"quantitative","scale":{"domain":[0.99423,1.37704],"zero":false,"nice":false},"axis":{"title":null}},
  "text":{"field":"t"}}},
{"data":{"values":[{"d":"2020-09-17","p":1.1190,"k":"cur"},{"d":"2020-09-17","p":1.0343,"k":"low"}]},"mark":{"type":"point","shape":"M-2,-0.64H2V0.64H-2Z","size":196,"filled":true,"opacity":1},
 "encoding":{"x":{"field":"d","type":"temporal","scale":{"domain":[{"year":2014,"month":6,"date":26},{"year":2020,"month":7,"date":30}]},"axis":{"title":null}},
  "y":{"field":"p","type":"quantitative","scale":{"domain":[0.99423,1.37704],"zero":false,"nice":false},"axis":{"title":null}},
  "color":{"field":"k","type":"nominal","scale":{"domain":["cur","low"],"range":["#5b6d80","#f0a23e"]},"legend":null}}},
{"data":{"values":[{"d":"2020-09-17","p":1.1190,"t":"1.11900"},{"d":"2020-09-17","p":1.0343,"t":"1.03430"}]},"mark":{"type":"text","fontSize":6,"align":"center","baseline":"middle","color":"white"},
 "encoding":{"x":{"field":"d","type":"temporal","scale":{"domain":[{"year":2014,"month":6,"date":26},{"year":2020,"month":7,"date":30}]},"axis":{"title":null}},
  "y":{"field":"p","type":"quantitative","scale":{"domain":[0.99423,1.37704],"zero":false,"nice":false},"axis":{"title":null}},
  "text":{"field":"t"}}}
]
}
